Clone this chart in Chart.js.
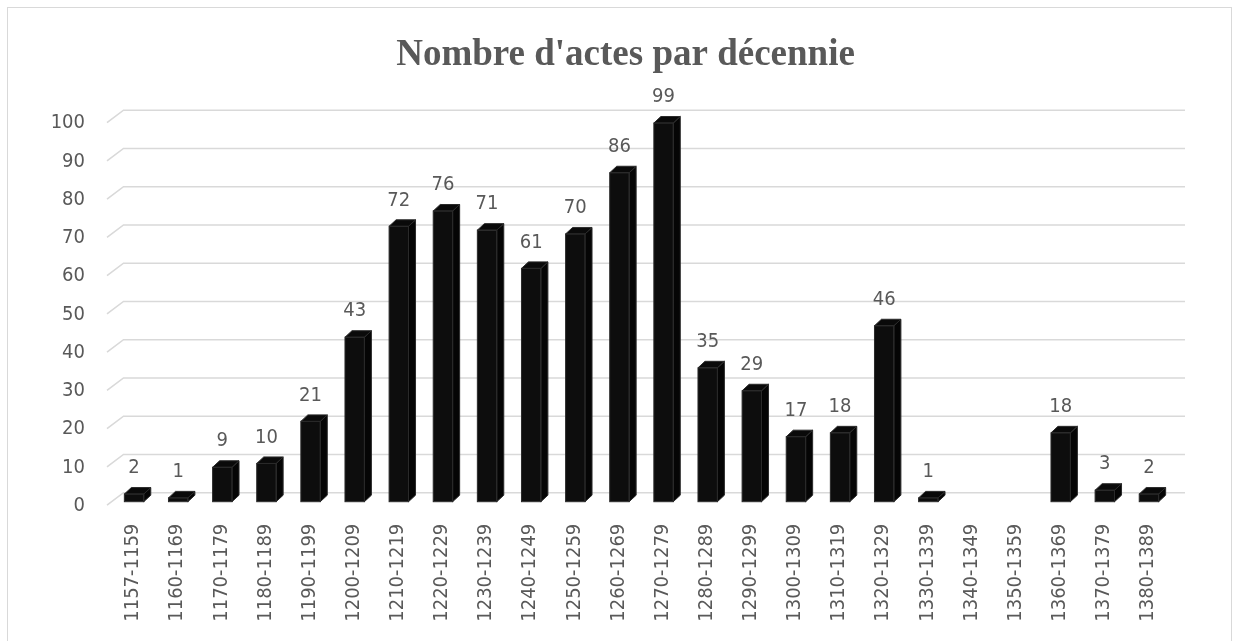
<!DOCTYPE html>
<html lang="fr">
<head>
<meta charset="utf-8">
<title>Nombre d'actes par décennie</title>
<script src="https://cdn.jsdelivr.net/npm/chart.js@4.4.1/dist/chart.umd.min.js"></script>
<style>
  html, body { margin: 0; padding: 0; background: #fff; }
  #wrap { width: 1239px; height: 641px; }
</style>
</head>
<body>
<div id="wrap"><canvas id="actesChart" width="1239" height="641"></canvas></div>
<script>
const decades = [
  "1157-1159", "1160-1169", "1170-1179", "1180-1189", "1190-1199", "1200-1209",
  "1210-1219", "1220-1229", "1230-1239", "1240-1249", "1250-1259", "1260-1269",
  "1270-1279", "1280-1289", "1290-1299", "1300-1309", "1310-1319", "1320-1329",
  "1330-1339", "1340-1349", "1350-1359", "1360-1369", "1370-1379", "1380-1389",
];
const actCounts = [2, 1, 9, 10, 21, 43, 72, 76, 71, 61, 70, 86, 99, 35, 29, 17, 18, 46, 1, 0, 0, 18, 3, 2];

const textGrey = "#595959";
const labelFont = "'DejaVu Sans Condensed', 'DejaVu Sans', sans-serif";

// depth of the bars and of the floor/back wall (pseudo 3D look)
const barDepth = { dx: 7, dy: 6.5 };
const wallDepth = { dx: 16.5, dy: 12.5 };

// outline around the whole chart
const frame = {
  id: "frame",
  beforeDraw(chart) {
    const ctx = chart.ctx;
    ctx.save();
    ctx.strokeStyle = "#d9d9d9";
    ctx.lineWidth = 1;
    ctx.strokeRect(7.5, 7.5, 1224, 700);
    ctx.restore();
  },
};

// gridlines drawn on the back wall with a slanted floor edge on the left
const wallGrid = {
  id: "wallGrid",
  beforeDatasetsDraw(chart) {
    const { ctx, chartArea, scales } = chart;
    const y = scales.y;
    ctx.save();
    ctx.strokeStyle = "#d9d9d9";
    ctx.lineWidth = 1.6;
    for (const tick of y.ticks) {
      const yf = y.getPixelForValue(tick.value) + 3.5;
      const x0 = chartArea.left - 5;
      ctx.beginPath();
      ctx.moveTo(x0, yf);
      ctx.lineTo(x0 + wallDepth.dx, yf - wallDepth.dy);
      ctx.lineTo(chartArea.right + 14, yf - wallDepth.dy);
      ctx.stroke();
    }
    ctx.restore();
  },
};

// top and side faces of each bar, plus the value above it
const barFaces = {
  id: "barFaces",
  afterDatasetsDraw(chart) {
    const ctx = chart.ctx;
    const meta = chart.getDatasetMeta(0);
    const { dx, dy } = barDepth;
    ctx.save();
    meta.data.forEach((bar, i) => {
      const v = actCounts[i];
      if (!v) return;
      const { x, y, base, width } = bar.getProps(["x", "y", "base", "width"], true);
      const xl = x - width / 2;
      const xr = x + width / 2;
      ctx.lineWidth = 1;
      ctx.strokeStyle = "#2a2a2a";

      ctx.fillStyle = "#050505";
      ctx.beginPath();
      ctx.moveTo(xr, y);
      ctx.lineTo(xr + dx, y - dy);
      ctx.lineTo(xr + dx, base - dy);
      ctx.lineTo(xr, base);
      ctx.closePath();
      ctx.fill();
      ctx.stroke();

      ctx.fillStyle = "#0a0a0a";
      ctx.beginPath();
      ctx.moveTo(xl, y);
      ctx.lineTo(xl + dx, y - dy);
      ctx.lineTo(xr + dx, y - dy);
      ctx.lineTo(xr, y);
      ctx.closePath();
      ctx.fill();
      ctx.stroke();

      ctx.strokeRect(xl, y, width, base - y);

      ctx.fillStyle = textGrey;
      ctx.font = "20px " + labelFont;
      ctx.textAlign = "center";
      ctx.textBaseline = "middle";
      ctx.fillText(String(v), x, y - 26);
    });
    ctx.restore();
  },
};

new Chart(document.getElementById("actesChart"), {
  type: "bar",
  data: {
    labels: decades,
    datasets: [
      {
        label: "Nombre d'actes",
        data: actCounts,
        backgroundColor: "#0d0d0d",
        borderWidth: 0,
        barPercentage: 0.44,
        categoryPercentage: 1,
      },
    ],
  },
  options: {
    responsive: false,
    animation: false,
    layout: { padding: { left: 12, right: 0, top: 0, bottom: 0 } },
    plugins: {
      legend: { display: false },
      tooltip: { enabled: false },
      title: {
        display: true,
        text: "Nombre d'actes par décennie",
        color: textGrey,
        font: { family: "'Liberation Serif', 'Times New Roman', serif", size: 37, weight: "bold" },
        padding: { top: 33, bottom: 41.8 },
      },
    },
    scales: {
      x: {
        grid: { display: false, drawTicks: false },
        border: { display: false },
        ticks: {
          color: textGrey,
          font: { family: labelFont, size: 20 },
          minRotation: 90,
          maxRotation: 90,
          autoSkip: false,
          padding: 22,
          labelOffset: -1,
        },
        afterFit(scale) {
          scale.height = 139.3;
        },
      },
      y: {
        min: 0,
        max: 100,
        grid: { display: false, drawTicks: false },
        border: { display: false },
        ticks: {
          stepSize: 10,
          color: textGrey,
          font: { family: labelFont, size: 20 },
          padding: 27,
          labelOffset: 4,
        },
        afterFit(scale) {
          scale.width = 100;
        },
      },
      // empty right-hand axis that keeps space on the right of the plot
      yRight: {
        position: "right",
        display: true,
        grid: { display: false, drawTicks: false },
        border: { display: false },
        ticks: { display: false },
        afterFit(scale) {
          scale.width = 68;
        },
      },
    },
  },
  plugins: [frame, wallGrid, barFaces],
});
</script>
</body>
</html>
